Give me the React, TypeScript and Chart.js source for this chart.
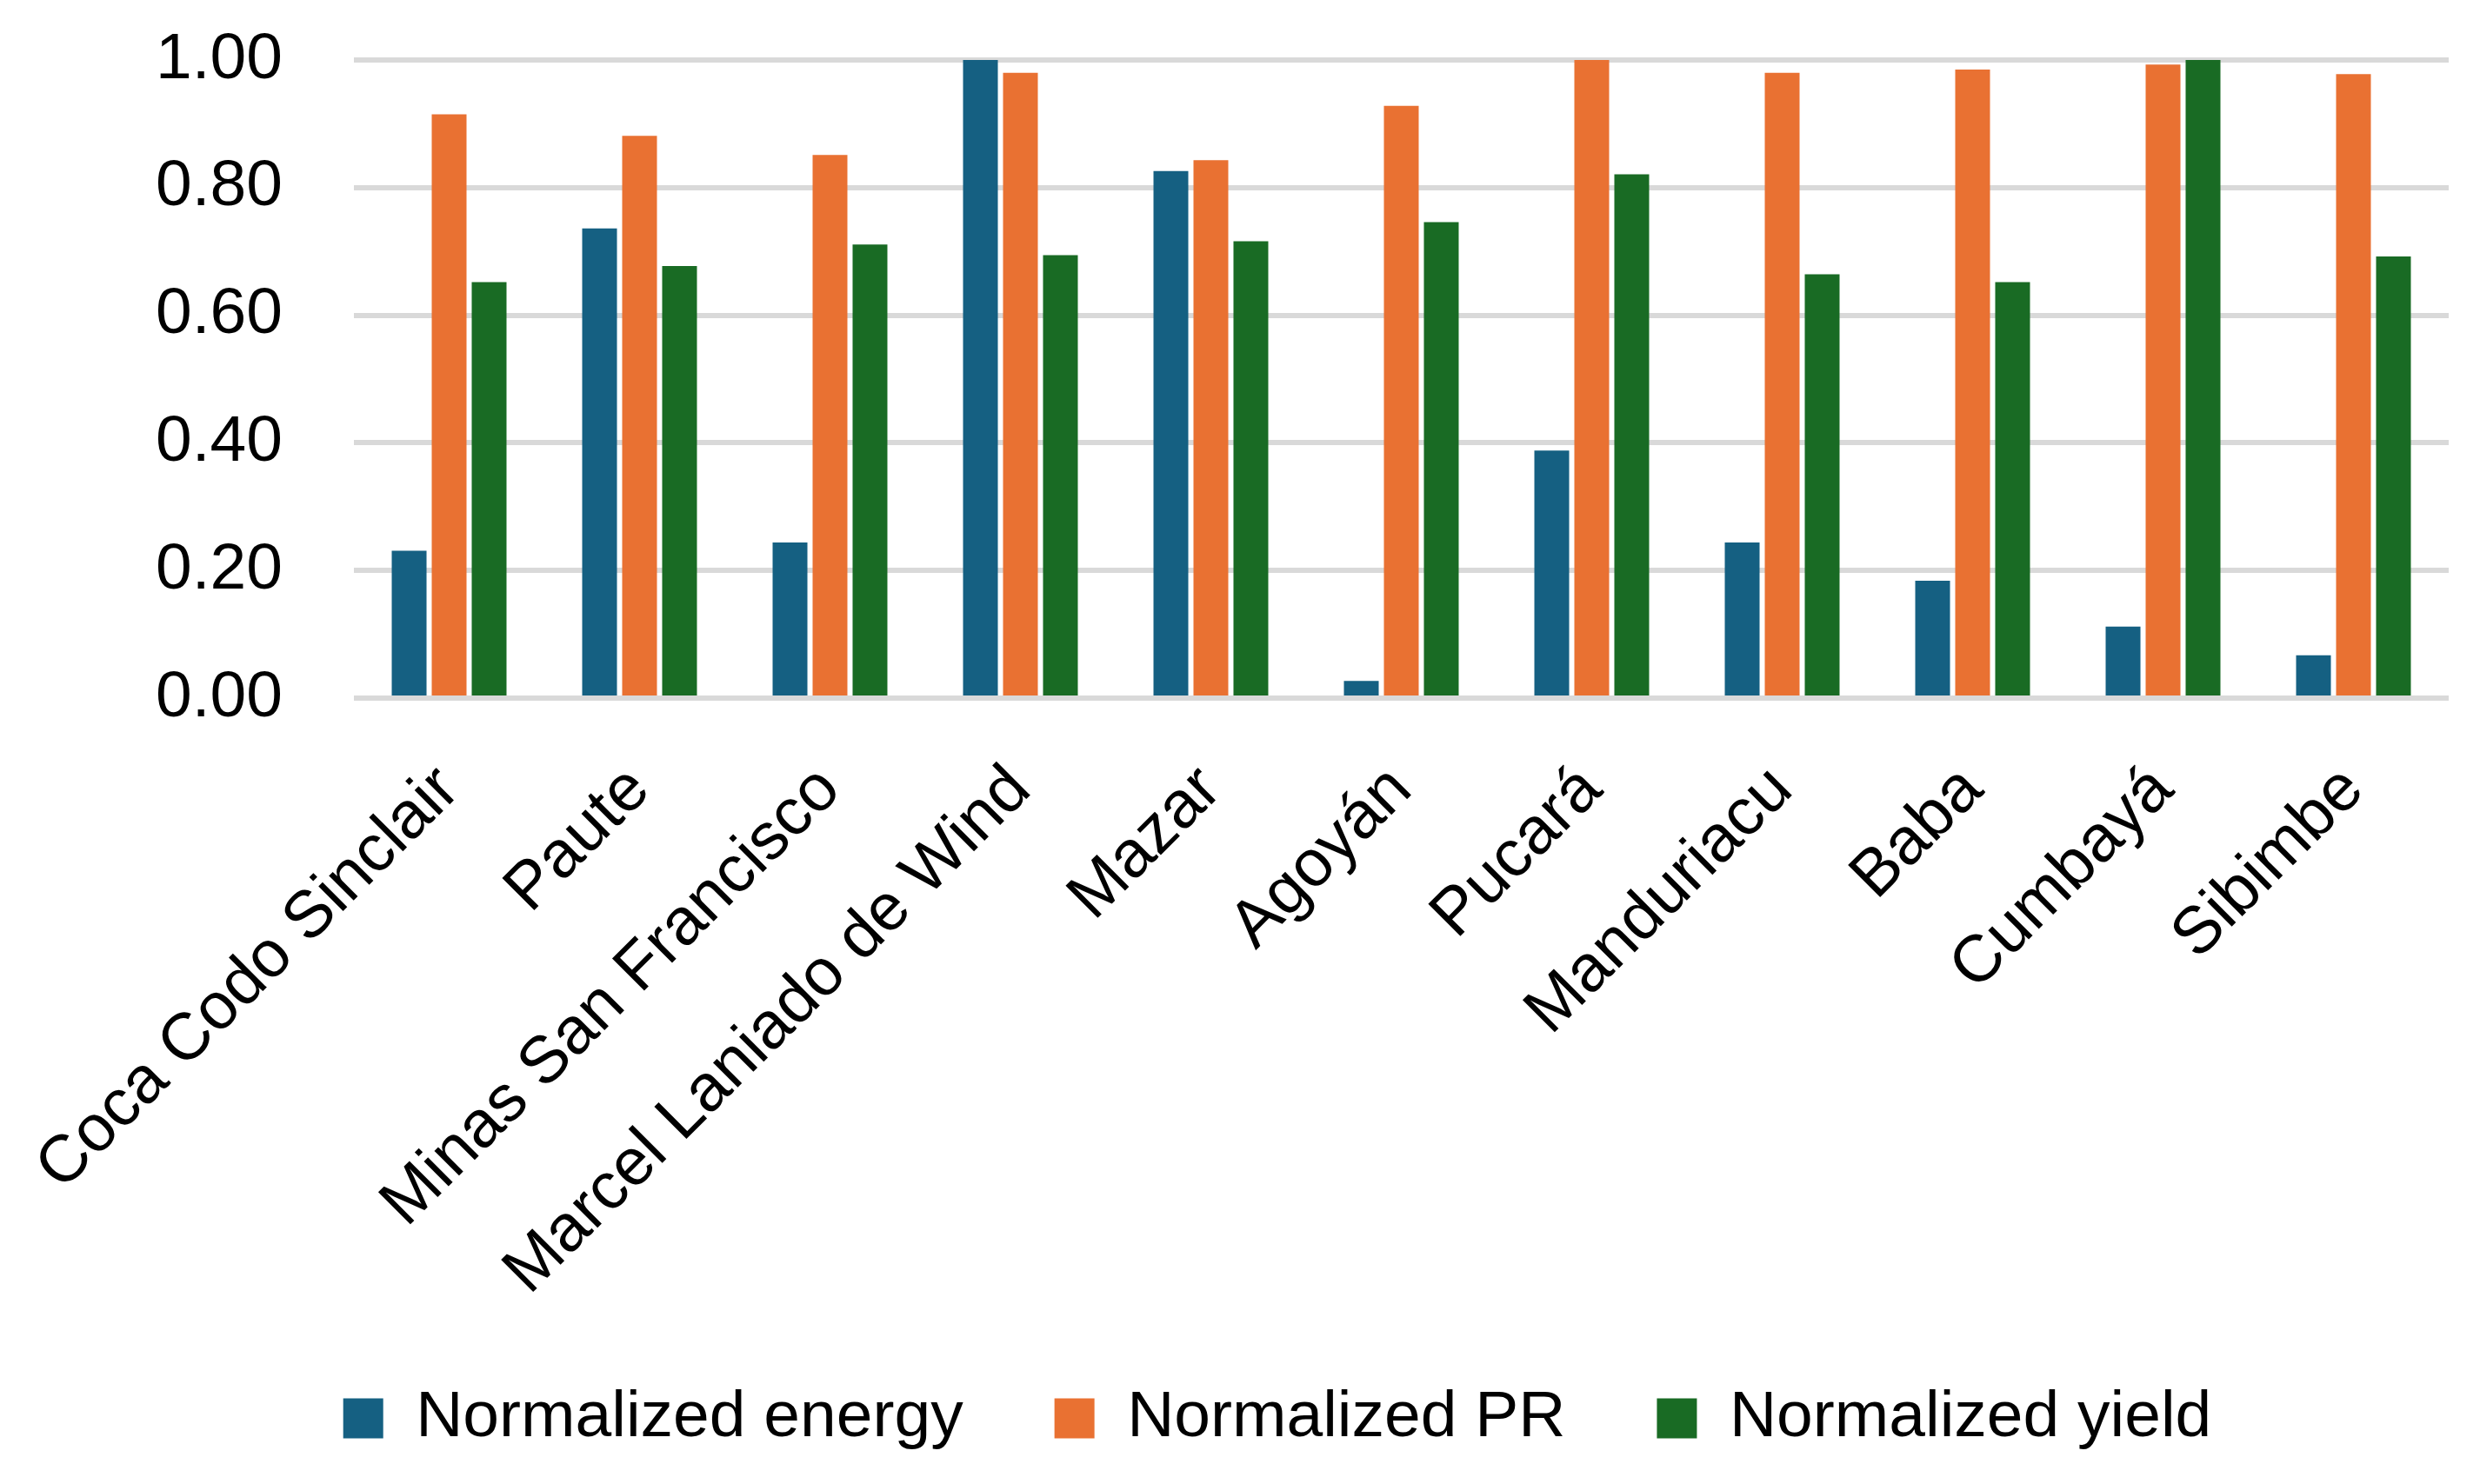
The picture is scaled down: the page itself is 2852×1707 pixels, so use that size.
import { useEffect, useRef } from "react";
import { Chart, registerables } from "chart.js";

Chart.register(...registerables);

const categories = [
  "Coca Codo Sinclair",
  "Paute",
  "Minas San Francisco",
  "Marcel Laniado de Wind",
  "Mazar",
  "Agoyán",
  "Pucará",
  "Manduriacu",
  "Baba",
  "Cumbayá",
  "Sibimbe",
];

const normalizedEnergy = [0.231, 0.736, 0.244, 1.0, 0.826, 0.027, 0.388, 0.244, 0.184, 0.112, 0.067];
const normalizedPR = [0.915, 0.881, 0.851, 0.98, 0.843, 0.928, 1.0, 0.98, 0.985, 0.993, 0.978];
const normalizedYield = [0.652, 0.677, 0.711, 0.694, 0.716, 0.746, 0.821, 0.664, 0.652, 1.0, 0.692];

const seriesNames = ["Normalized energy", "Normalized PR", "Normalized yield"];
const seriesColors = ["#156082", "#E97132", "#196B24"];

const yTicks = [0, 0.2, 0.4, 0.6, 0.8, 1.0];

const FONT = "'Liberation Sans', Arial, sans-serif";

export default function App() {
  const ref = useRef<HTMLCanvasElement>(null);

  useEffect(() => {
    if (!ref.current) return;
    const seriesValues = [normalizedEnergy, normalizedPR, normalizedYield];
    const chart = new Chart(ref.current, {
      type: "bar",
      data: {
        labels: categories,
        datasets: seriesValues.map((vals, i) => ({
          label: seriesNames[i],
          data: vals,
          backgroundColor: seriesColors[i],
          borderWidth: 0,
          categoryPercentage: 0.63,
          barPercentage: 0.87,
        })),
      },
      options: {
        animation: false,
        responsive: false,
        devicePixelRatio: 1,
        layout: { padding: { left: 114, right: 28, top: 61, bottom: 20 } },
        plugins: {
          legend: {
            position: "bottom",
            labels: {
              boxWidth: 46,
              boxHeight: 46,
              padding: 105,
              color: "#000",
              font: { family: FONT, size: 75 },
            },
          },
          tooltip: { enabled: false },
        },
        scales: {
          x: {
            grid: { display: false },
            border: { display: false },
            ticks: {
              minRotation: 45,
              maxRotation: 45,
              autoSkip: false,
              padding: 53,
              color: "#000",
              font: { family: FONT, size: 76 },
            },
            afterFit: (s: any) => {
              s.height = 686;
              s.paddingLeft = 0;
              s.paddingRight = 0;
            },
          },
          y: {
            min: 0,
            max: 1,
            afterBuildTicks: (s: any) => {
              s.ticks = yTicks.map((v) => ({ value: v }));
            },
            grid: { color: "#d9d9d9", lineWidth: 6, drawTicks: false },
            border: { display: false },
            ticks: {
              padding: 82,
              color: "#000",
              font: { family: FONT, size: 75 },
              callback: (v: any) => Number(v).toFixed(2),
            },
            afterFit: (s: any) => {
              s.width = 285;
              s.paddingTop = 0;
              s.paddingBottom = 0;
            },
          },
        },
      },
    });
    return () => chart.destroy();
  }, []);

  return (
    <canvas
      ref={ref}
      width={2836}
      height={1691}
      style={{ display: "block", width: "2836px", height: "1691px" }}
    />
  );
}
